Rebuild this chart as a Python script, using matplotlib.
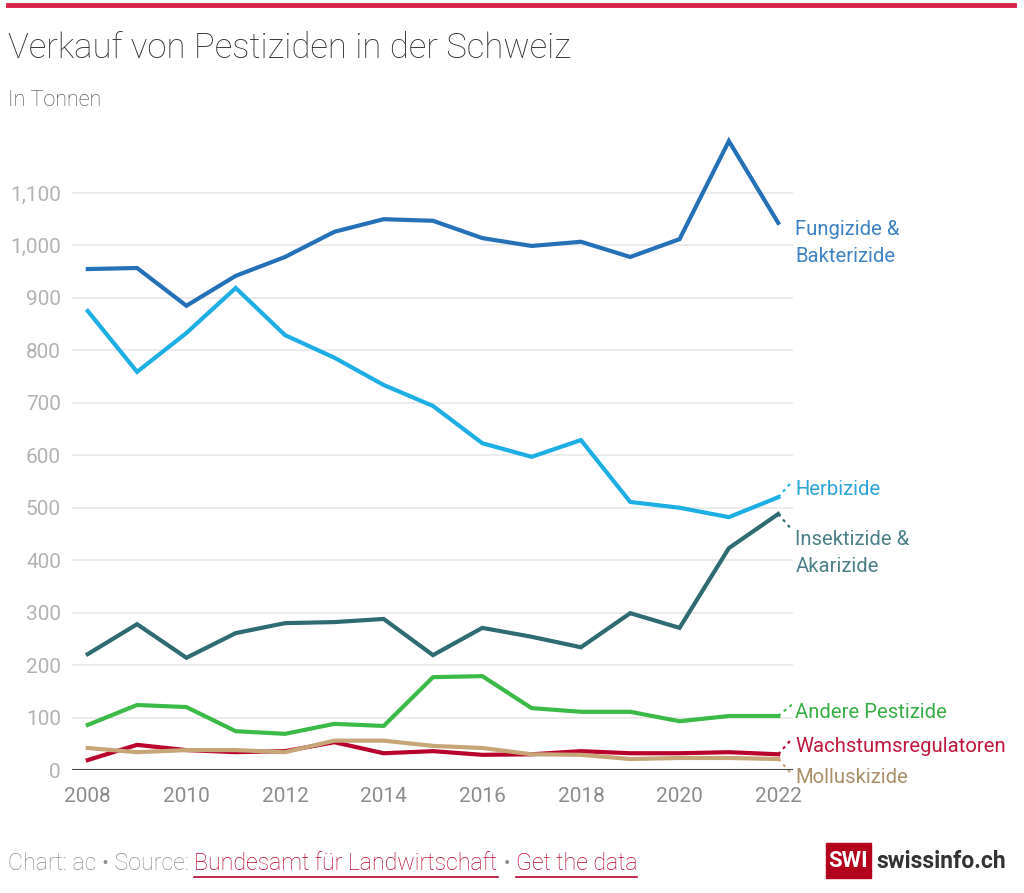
import matplotlib.pyplot as plt
from matplotlib.patches import Rectangle
from matplotlib.lines import Line2D
from matplotlib.ticker import FuncFormatter

plt.rcParams['font.family'] = ['Roboto', 'DejaVu Sans']

years = list(range(2008, 2023))

fungizide = [955, 957, 885, 942, 978, 1026, 1050, 1047, 1014, 999, 1007, 978, 1012, 1199, 1043]
herbizide = [875, 759, 833, 919, 829, 786, 734, 694, 623, 597, 629, 511, 500, 482, 520]
insektizide = [221, 278, 214, 261, 280, 282, 288, 219, 271, 254, 234, 299, 271, 423, 488]
andere = [86, 124, 120, 74, 69, 88, 84, 177, 179, 118, 111, 111, 93, 103, 103]
wachstum = [19, 48, 38, 34, 36, 53, 32, 36, 29, 30, 36, 32, 32, 34, 30]
mollus = [42, 34, 38, 38, 34, 56, 56, 46, 42, 30, 29, 21, 23, 23, 21]

series_names = ["Fungizide &\nBakterizide", "Herbizide", "Insektizide &\nAkarizide",
                "Andere Pestizide", "Wachstumsregulatoren", "Molluskizide"]
series_values = [fungizide, herbizide, insektizide, andere, wachstum, mollus]
line_colors = ["#2471b8", "#1daee3", "#2e6b72", "#3cba48", "#b8022c", "#c6a577"]
label_colors = ["#3d82c4", "#2aa3d8", "#4b8087", "#36ad45", "#c0173c", "#a98f68"]
# label anchor values (in data units) where the label text sits
label_y = [1004, 535, 413, 110, 45, -15]
# where the dotted leader meets the label (None = no leader)
leader_end = [None, 550, 458, 125, 60, -8]

fig = plt.figure(figsize=(10.24, 8.93), dpi=100)
ax = fig.add_axes([0.0703, 0.1377, 0.7041, 0.7167])

for vals, col in zip(series_values, line_colors):
    ax.plot(years, vals, color=col, lw=3, solid_joinstyle='miter', zorder=3)

ax.set_xlim(2007.68, 2022.3)
ax.set_ylim(0, 1220)
ax.set_yticks(range(0, 1101, 100))
ax.set_xticks(range(2008, 2023, 2))
ax.yaxis.set_major_formatter(FuncFormatter(lambda v, p: f"{int(v):,}"))
ax.grid(axis='y', color='#e8e8e8', lw=1.2)
ax.set_axisbelow(True)
for s in ax.spines.values():
    s.set_visible(False)
ax.axhline(0, color='#444444', lw=1.5, zorder=4)
ax.tick_params(axis='y', length=0, pad=8, labelsize=15, labelcolor='#b3b3b3')
ax.tick_params(axis='x', length=0, pad=12, labelsize=15, labelcolor='#8c8c8c')

# series labels with small dotted leaders
for name, vals, col, lc, ly, le in zip(series_names, series_values, line_colors, label_colors, label_y, leader_end):
    ax.text(2022.35, ly, name, color=lc, fontsize=14.6, va='center', ha='left',
            linespacing=1.55, clip_on=False)
    if le is not None:
        ax.plot([2022, 2022.28], [vals[-1], le],
                color=col, lw=1.5, ls=(0, (1.5, 2)), clip_on=False, zorder=3)

# top red rule
fig.add_artist(Line2D([0.008, 0.99], [0.994, 0.994], color='#d6234a', lw=3.5))

fig.text(0.008, 0.946, "Verkauf von Pestiziden in der Schweiz", fontsize=25,
         fontweight='light', color='#333333', va='center', ha='left')
fig.text(0.008, 0.888, "In Tonnen", fontsize=15.5, fontweight='light',
         color='#444444', va='center', ha='left')

# footer with coloured parts
fig.canvas.draw()
r = fig.canvas.get_renderer()
parts = [("Chart: ac \u2022 Source: ", '#8c8c8c', False),
         ("Bundesamt f\u00fcr Landwirtschaft", '#b8022c', True),
         (" \u2022 ", '#8c8c8c', False),
         ("Get the data", '#b8022c', True)]
x = 8
y = 893 - 864
for txt, col, ul in parts:
    t = fig.text(x / 1024, y / 893, txt, fontsize=16.7, fontweight='light',
                 color=col, va='center', ha='left')
    bb = t.get_window_extent(r)
    if ul:
        fig.add_artist(Line2D([bb.x0 / 1024, bb.x1 / 1024], [(y - 13) / 893] * 2,
                              color=col, lw=1.2))
    x = bb.x1

# logo
fig.add_artist(Rectangle((826 / 1024, (893 - 878) / 893), 45 / 1024, 35 / 893,
                         color='#b3001b', transform=fig.transFigure))
fig.text(848 / 1024, (893 - 861) / 893, "SWI", color='white', fontsize=16,
         fontweight='bold', ha='center', va='center')
fig.text(876 / 1024, (893 - 861) / 893, "swissinfo.ch", color='#333333', fontsize=16.5,
         fontweight='bold', ha='left', va='center')

fig.savefig('out.png', dpi=100)
